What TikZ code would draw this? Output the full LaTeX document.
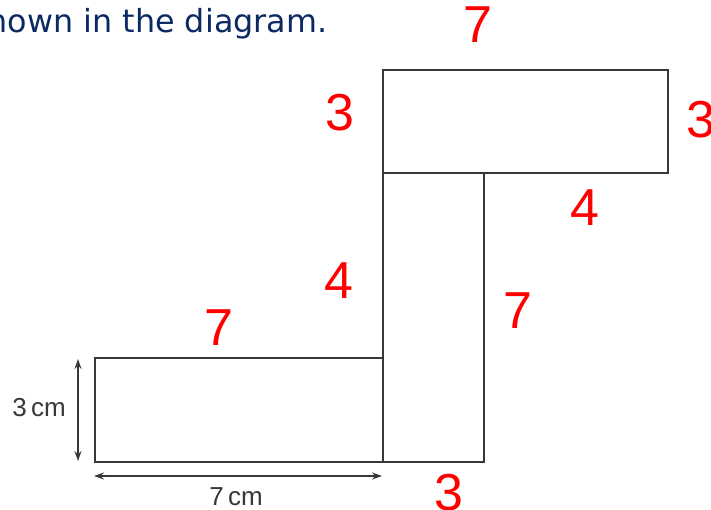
\documentclass[tikz,border=0pt]{standalone}
\usepackage{fontspec}
\setmainfont{Liberation Sans}
\newfontfamily\headfont{DejaVu Sans}
\usetikzlibrary{arrows.meta}
\definecolor{navy}{HTML}{0B2A63}
\definecolor{edge}{HTML}{383838}
\definecolor{handred}{HTML}{FF0000}
\tikzset{
  shapebox/.style={draw=edge, line width=2pt, inner sep=0pt, outer sep=0pt},
  dimline/.style={draw=edge, line width=1.4pt, {Stealth[length=10pt,width=7pt]}-{Stealth[length=10pt,width=7pt]}},
  dimlabel/.style={text=edge, font=\fontsize{26}{28}\selectfont, inner sep=0pt},
  hand/.style={text=handred, font=\fontsize{52}{54}\selectfont, inner sep=0pt}
}
\begin{document}
\begin{tikzpicture}[x=1pt,y=-1pt]
\useasboundingbox (0,0) rectangle (711,510);
\clip (0,0) rectangle (711,510);
% heading fragment
\node[anchor=base east, inner sep=0pt, text=navy, font=\headfont\fontsize{31.8}{34}\selectfont] (head) at (327.5,33) {shown in the diagram.};
% shapes
\node[shapebox, minimum width=285pt, minimum height=103pt] (top) at (525.5,121.5) {};
\node[shapebox, minimum width=101pt, minimum height=289pt] (mid) at (433.5,317.5) {};
\node[shapebox, minimum width=288pt, minimum height=104pt] (low) at (239,410) {};
% dimension arrows
\coordinate (va) at (78,359);
\coordinate (vb) at (78,461);
\draw[dimline] (va) -- (vb);
\coordinate (ha) at (94,476);
\coordinate (hb) at (382,476);
\draw[dimline] (ha) -- (hb);
\node[dimlabel] (lh) at (39,408) {3\,cm};
\node[dimlabel] (lw) at (236,497) {7\,cm};
% handwritten labels
\node[hand] (r1) at (478,25) {7};
\node[hand] (r2) at (340,113) {3};
\node[hand] (r3) at (701,120) {3};
\node[hand] (r4) at (585,208) {4};
\node[hand] (r5) at (339,281) {4};
\node[hand] (r6) at (219,328) {7};
\node[hand] (r7) at (518,311) {7};
\node[hand] (r8) at (449,493) {3};
\end{tikzpicture}
\end{document}
